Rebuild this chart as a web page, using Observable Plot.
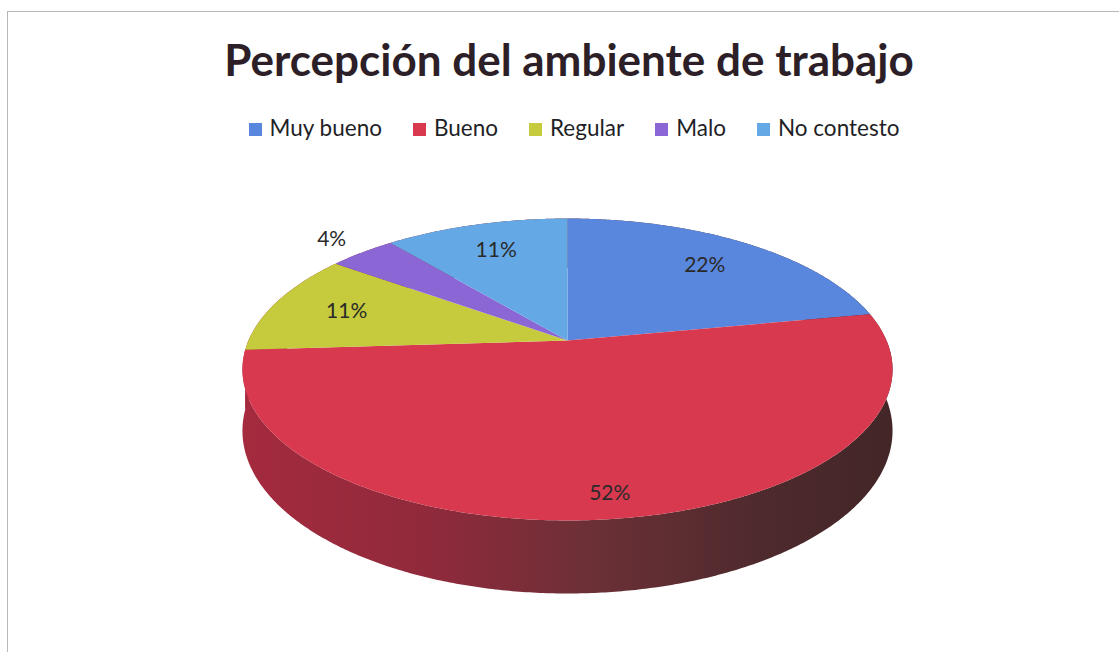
<!DOCTYPE html>
<html>
<head>
<meta charset="utf-8">
<script src="https://cdn.jsdelivr.net/npm/d3@7"></script>
<script src="https://cdn.jsdelivr.net/npm/@observablehq/plot@0.6"></script>
<style>
  html, body { margin: 0; padding: 0; background: #ffffff; }
  #wrap { position: relative; width: 1119px; height: 652px; overflow: hidden; font-family: Lato, "Open Sans", sans-serif; }
  #frame { position: absolute; left: 7px; top: 11px; width: 1200px; height: 700px; border-left: 1px solid #b8b8b8; border-top: 1px solid #b8b8b8; }
  #chart { position: absolute; left: 0; top: 0; }
  #title { position: absolute; left: 0; top: 37px; width: 1138px; text-align: center; font-size: 44px; line-height: 44px; font-weight: 700; color: #2d1f27; white-space: nowrap; }
  #legend { position: absolute; left: 0; top: 117px; width: 1148px; display: flex; justify-content: center; gap: 31px; font-size: 22.5px; line-height: 22px; color: #1f1f28; }
  .item { display: flex; align-items: center; }
  .sw { width: 13px; height: 13px; margin-right: 8px; margin-top: 2px; }
</style>
</head>
<body>
<div id="wrap">
  <div id="frame"></div>
  <div id="chart"></div>
  <div id="title"></div>
  <div id="legend"></div>
</div>
<script>
// ---- data ----
const title = "Percepción del ambiente de trabajo";
const categories = ["Muy bueno", "Bueno", "Regular", "Malo", "No contesto"];
const values = [22, 52, 11, 4, 11];
const colors = ["#5a87de", "#d8394e", "#c5cb3c", "#8b67d6", "#64a9e6"];

// ---- layout of the 3D pie (perspective projection of a disc) ----
const W = 1119, Hgt = 652;
const CX = 567, CY = 340;   // projected centre of the disc
const A = 319, B = 145.4;   // horizontal / vertical radii before perspective
const K = 0.192;            // perspective strength
const DEPTH = 59;           // thickness of the disc
const STEP = Math.PI / 360;

function proj(r, phi, h) {
  const u = r * Math.sin(phi), v = -r * Math.cos(phi);
  const dist = 1 - K * v;
  return {x: CX + A * u / dist, y: CY + B * v / dist + DEPTH * h / dist};
}

const total = d3.sum(values);
let acc = 0;
const slices = categories.map((c, i) => {
  const a0 = acc / total * 2 * Math.PI;
  acc += values[i];
  const a1 = acc / total * 2 * Math.PI;
  return {c, v: values[i], a0, a1};
});

function arcPts(a0, a1, h) {
  const n = Math.max(2, Math.ceil((a1 - a0) / STEP));
  const out = [];
  for (let j = 0; j <= n; j++) out.push(proj(1, a0 + (a1 - a0) * j / n, h));
  return out;
}

const topPts = [], sidePts = [];
for (const s of slices) {
  const c0 = proj(0, 0, 0);
  topPts.push({c: s.c, x: c0.x, y: c0.y});
  for (const p of arcPts(s.a0, s.a1, 0)) topPts.push({c: s.c, x: p.x, y: p.y});
  const up = arcPts(s.a0, s.a1, 0), down = arcPts(s.a0, s.a1, 1).reverse();
  for (const p of up.concat(down)) sidePts.push({c: s.c, x: p.x, y: p.y});
}

// label positions
function labelR(s) { return s.v < 5 ? 1.17 : (s.v > 50 ? 0.88 : 0.75); }
const labels = slices.map(s => {
  const p = proj(labelR(s), (s.a0 + s.a1) / 2, 0);
  return {c: s.c, x: p.x, y: p.y, text: Math.round(s.v / total * 100) + "%"};
});

const svg = Plot.plot({
  width: W, height: Hgt, margin: 0,
  x: {domain: [0, W], range: [0, W], axis: null},
  y: {domain: [0, Hgt], range: [0, Hgt], axis: null},
  color: {domain: categories, range: colors},
  style: {fontFamily: "Lato, 'Open Sans', sans-serif", background: "transparent"},
  marks: [
    Plot.line(sidePts, {x: "x", y: "y", z: "c", fill: "url(#sideGrad)", stroke: "none", curve: "linear"}),
    Plot.line(topPts, {x: "x", y: "y", z: "c", fill: "c", stroke: "none", curve: "linear"}),
    Plot.text(labels, {x: "x", y: "y", text: "text", fontSize: 21, fill: "#2a2a2a"})
  ]
});

const defs = d3.select(svg).insert("defs", ":first-child");
const g = defs.append("linearGradient").attr("id", "sideGrad")
  .attr("gradientUnits", "userSpaceOnUse")
  .attr("x1", CX - A * 1.02).attr("x2", CX + A * 1.02).attr("y1", 0).attr("y2", 0);
[[0, "#a52a3e"], [0.3, "#8e2a3b"], [0.55, "#6a3036"], [0.8, "#4e2a2d"], [1, "#432627"]]
  .forEach(([o, col]) => g.append("stop").attr("offset", o).attr("stop-color", col));

document.getElementById("chart").appendChild(svg);
document.getElementById("title").textContent = title;

const legend = document.getElementById("legend");
categories.forEach((c, i) => {
  const it = document.createElement("div");
  it.className = "item";
  const sw = document.createElement("div");
  sw.className = "sw";
  sw.style.background = colors[i];
  const tx = document.createElement("span");
  tx.textContent = c;
  it.appendChild(sw); it.appendChild(tx);
  legend.appendChild(it);
});
</script>
</body>
</html>
